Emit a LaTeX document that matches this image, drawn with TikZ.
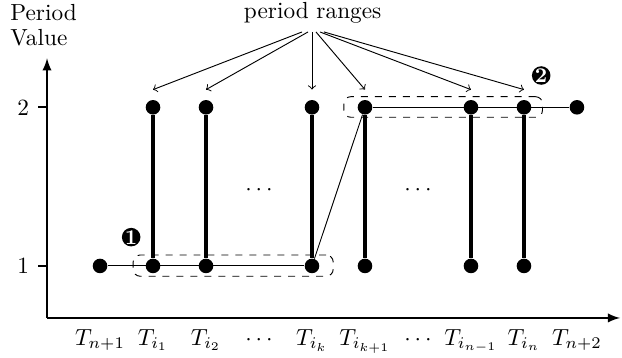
\documentclass[tikz,border=0pt]{standalone}
\usetikzlibrary{arrows,calc}
\begin{document}
\begin{tikzpicture}[thin,
		dot/.style={circle, fill=black, inner sep=0pt, minimum size=2.2mm},
		stem/.style={line width=1.7pt},
		axis/.style={->, >=latex, line width=0.8pt},
		rangebox/.style={draw, dashed, rounded corners=3pt, inner sep=0pt},
		badge/.style={circle, fill=black, text=white, inner sep=0pt, minimum size=2.8mm, font=\small\bfseries},
		pointer/.style={->, thin},
		tlabel/.style={anchor=base}]

		\useasboundingbox (-0.71,-0.60) rectangle (8.68,4.80);

		% axes
		\coordinate (o) at (0,0);
		\coordinate (xend) at (8.65,0);
		\coordinate (yend) at (0,3.92);
		\draw [axis] (o) -- (xend);
		\draw [axis] (o) -- (yend);
		\coordinate (y1) at (0,0.785);
		\coordinate (y2) at (0,3.18);
		\draw [line width=0.8pt] (y1) -- ++(-0.14,0) node [left] (v1) {1};
		\draw [line width=0.8pt] (y2) -- ++(-0.14,0) node [left] (v2) {2};
		\node [align=left, anchor=north west, inner sep=0pt] (ylab) at (-0.56,4.74) {Period\\[-1.5pt]Value};

		% dots at value 1
		\node [dot] (l0) at (0.8,0.785) {};
		\node [dot] (l1) at (1.6,0.785) {};
		\node [dot] (l2) at (2.4,0.785) {};
		\node [dot] (lk) at (4.0,0.785) {};
		\node [dot] (lk1) at (4.8,0.785) {};
		\node [dot] (ln1) at (6.4,0.785) {};
		\node [dot] (ln) at (7.2,0.785) {};
		% dots at value 2
		\node [dot] (h1) at (1.6,3.18) {};
		\node [dot] (h2) at (2.4,3.18) {};
		\node [dot] (hk) at (4.0,3.18) {};
		\node [dot] (hk1) at (4.8,3.18) {};
		\node [dot] (hn1) at (6.4,3.18) {};
		\node [dot] (hn) at (7.2,3.18) {};
		\node [dot] (h0) at (8.0,3.18) {};

		\draw (l0) -- (lk);
		\draw (hk1) -- (h0);
		\draw (lk) -- (hk1);
		\draw [stem] (l1) -- (h1);
		\draw [stem] (l2) -- (h2);
		\draw [stem] (lk) -- (hk);
		\draw [stem] (lk1) -- (hk1);
		\draw [stem] (ln1) -- (hn1);
		\draw [stem] (ln) -- (hn);

		\node (gap1) at (3.2,1.93) {$\cdots$};
		\node (gap2) at (5.6,1.93) {$\cdots$};

		% ranges
		\node [rangebox, minimum width=3.02cm, minimum height=0.32cm] (r1) at (2.81,0.79) {};
		\node [rangebox, minimum width=3.0cm, minimum height=0.31cm] (r2) at (5.98,3.185) {};
		\node [badge] (b1) at (1.27,1.22) {1};
		\node [badge] (b2) at (7.46,3.66) {2};

		\node (pr) at (4.01,4.60) {period ranges};
		\draw [pointer] ($(pr.south)+(-0.16,0)$) -- ($(h1.north)+(0,0.15)$);
		\draw [pointer] ($(pr.south)+(-0.07,0)$) -- ($(h2.north)+(0,0.15)$);
		\draw [pointer] ($(pr.south)+(-0.01,0)$) -- ($(hk.north)+(0,0.15)$);
		\draw [pointer] ($(pr.south)+(0.05,0)$) -- ($(hk1.north)+(0,0.15)$);
		\draw [pointer] ($(pr.south)+(0.11,0)$) -- ($(hn1.north)+(0,0.15)$);
		\draw [pointer] ($(pr.south)+(0.17,0)$) -- ($(hn.north)+(0,0.15)$);

		% time labels
		\node [tlabel] (x0) at (0.8,-0.41) {$T_{n+1}$};
		\node [tlabel] (x1) at (1.6,-0.41) {$T_{i_1}$};
		\node [tlabel] (x2) at (2.4,-0.41) {$T_{i_2}$};
		\node [tlabel] (xd1) at (3.2,-0.41) {$\cdots$};
		\node [tlabel] (xk) at (4.0,-0.41) {$T_{i_k}$};
		\node [tlabel] (xk1) at (4.8,-0.41) {$T_{i_{k+1}}$};
		\node [tlabel] (xd2) at (5.6,-0.41) {$\cdots$};
		\node [tlabel] (xn1) at (6.4,-0.41) {$T_{i_{n-1}}$};
		\node [tlabel] (xn) at (7.2,-0.41) {$T_{i_n}$};
		\node [tlabel] (xe) at (8.0,-0.41) {$T_{n+2}$};

	\end{tikzpicture}
\end{document}
